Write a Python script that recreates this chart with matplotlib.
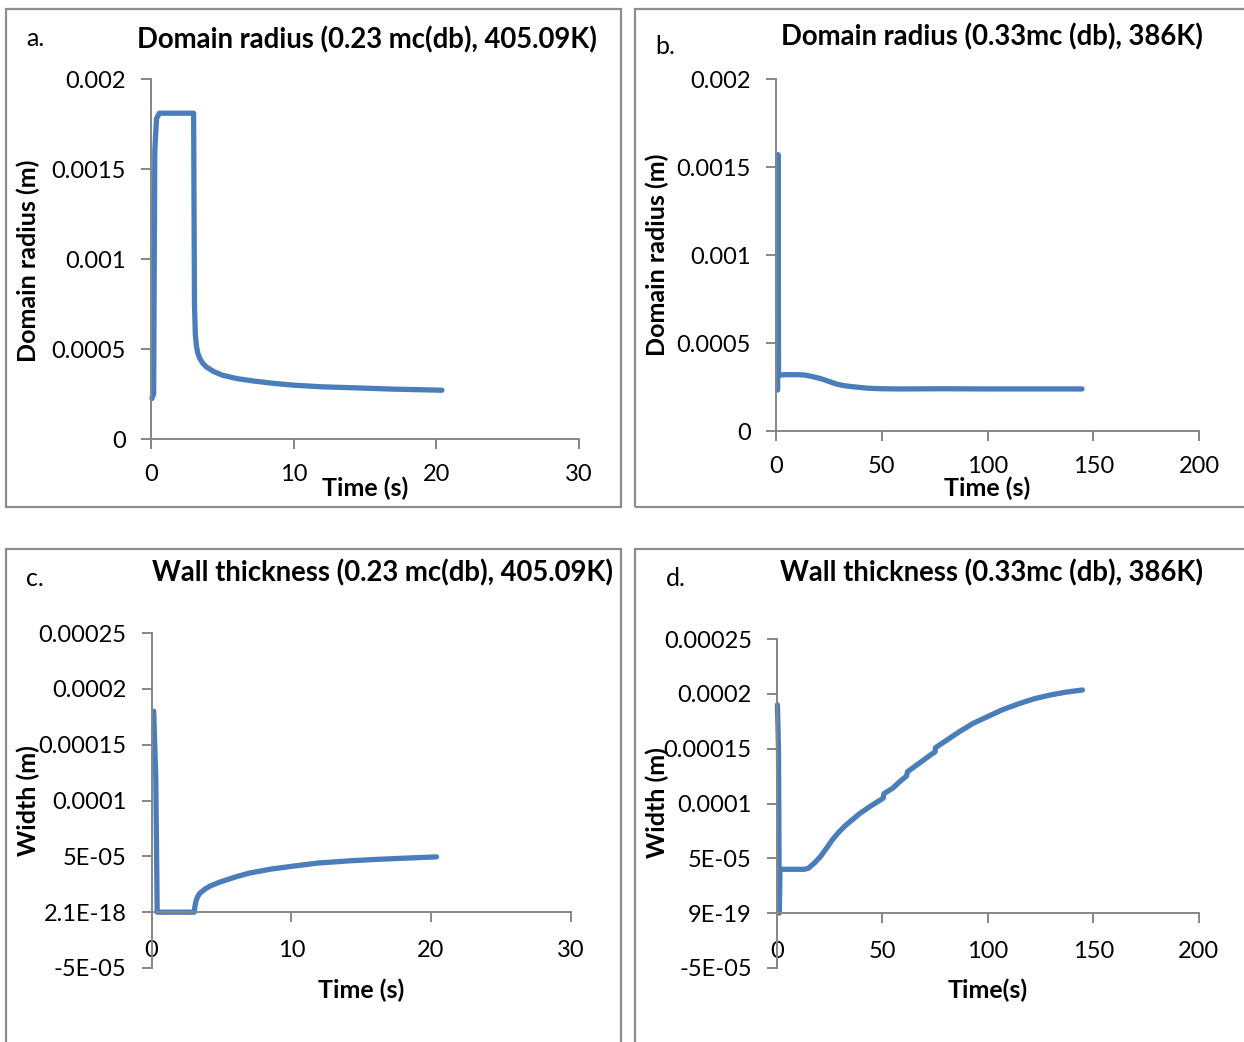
import matplotlib
matplotlib.use("Agg")
import matplotlib.pyplot as plt
from matplotlib.patches import Rectangle

plt.rcParams['font.family'] = ['Lato', 'DejaVu Sans']

# ---------------- data ----------------
a_time = [0.08, 0.2, 0.28, 0.4, 0.6, 1.0, 2.0, 3.0, 3.06, 3.12, 3.2, 3.3, 3.45,
          3.65, 3.9, 4.4, 5.0, 6.0, 7.2, 8.5, 10.0, 12.0, 14.4, 17.0, 20.4]
a_radius = [0.000225, 0.00025, 0.0016, 0.00178, 0.00181, 0.00181, 0.00181,
            0.00181, 0.00075, 0.00058, 0.000515, 0.000475, 0.000445,
            0.00042, 0.0004, 0.000375, 0.000355, 0.000336, 0.000322,
            0.00031, 0.000299, 0.00029, 0.000284, 0.000277, 0.000271]

b_time = [0.8, 1.0, 1.2, 5, 10, 13.5, 17, 21, 25, 28.5, 32, 36, 43.5, 50,
          58.5, 80, 100, 120, 144.7]
b_radius = [0.000233, 0.00157, 0.000318, 0.00032, 0.00032, 0.000318,
            0.00031, 0.000298, 0.000282, 0.000267, 0.000258, 0.000252,
            0.000243, 0.00024, 0.000239, 0.00024, 0.000239, 0.000239,
            0.000239]

c_time = [0.15, 0.3, 0.4, 1.0, 2.0, 3.05, 3.1, 3.18, 3.3, 3.46, 3.8, 4.2, 4.9,
          6.0, 7.0, 8.5, 10.0, 11.9, 14.2, 16.0, 17.6, 19.0, 20.4]
c_width = [0.00018, 0.00012, 0.0, 0.0, 0.0, 0.0, 5e-6, 1.0e-5, 1.4e-5,
           1.7e-5, 2.05e-5, 2.35e-5, 2.7e-5, 3.15e-5, 3.5e-5, 3.85e-5,
           4.1e-5, 4.4e-5, 4.6e-5, 4.72e-5, 4.81e-5, 4.88e-5, 4.95e-5]

d_time = [0.3, 0.8, 1.2, 1.5, 5, 10, 13, 15, 18, 20.7, 23.5, 26.3, 29, 32,
          35.7, 39.5, 44, 48.9, 50.5, 50.8, 55, 58.3, 61.5, 62, 67, 73.4, 75,
          75.3, 80, 86.6, 93, 99.7, 107, 114.8, 122, 129.8, 137, 144.9]
d_width = [0.00019, 0.00015, 0.0, 4.0e-5, 4.0e-5, 4.0e-5, 4.0e-5, 4.1e-5,
           4.6e-5, 5.16e-5, 5.9e-5, 6.68e-5, 7.3e-5, 7.9e-5, 8.5e-5, 9.11e-5,
           9.7e-5, 1.03e-4, 1.05e-4, 1.09e-4, 1.14e-4, 1.2e-4, 1.25e-4,
           1.29e-4, 1.36e-4, 1.45e-4, 1.47e-4, 1.51e-4, 1.57e-4, 1.655e-4,
           1.73e-4, 1.79e-4, 1.855e-4, 1.91e-4, 1.955e-4, 1.99e-4, 2.015e-4,
           2.035e-4]

radius_ticks = [0, 0.0005, 0.001, 0.0015, 0.002]
radius_ticklabels = ['0', '0.0005', '0.001', '0.0015', '0.002']
width_ticks = [-5e-05, 0, 5e-05, 0.0001, 0.00015, 0.0002, 0.00025]
c_width_ticklabels = ['-5E-05', '2.1E-18', '5E-05', '0.0001', '0.00015', '0.0002', '0.00025']
d_width_ticklabels = ['-5E-05', '9E-19', '5E-05', '0.0001', '0.00015', '0.0002', '0.00025']
short_time_ticks = [0, 10, 20, 30]
long_time_ticks = [0, 50, 100, 150, 200]

titles = ['Domain radius (0.23 mc(db), 405.09K)',
          'Domain radius (0.33mc (db), 386K)',
          'Wall thickness (0.23 mc(db), 405.09K)',
          'Wall thickness (0.33mc (db), 386K)']
letters = ['a.', 'b.', 'c.', 'd.']
ylabels = ['Domain radius (m)', 'Domain radius (m)', 'Width (m)', 'Width (m)']
xlabels = ['Time (s)', 'Time (s)', 'Time (s)', 'Time(s)']

# ---------------- layout ----------------
W, H = 1244, 1042
fig = plt.figure(figsize=(W / 100, H / 100), dpi=100)
fig.patch.set_facecolor('white')

LINE = '#4A7EBB'
AXC = '#868686'
TICK_FS = 17
LAB_FS = 18
TITLE_FS = 19.8
LETTER_FS = 18


def fx(px):
    return px / W


def fy(py):
    return 1 - py / H


def add_ax(left, right, top, bottom):
    return fig.add_axes([fx(left), fy(bottom), fx(right) - fx(left), fy(top) - fy(bottom)])


# panel borders
for (x0, y0, x1, y1) in [(6, 9, 621, 507), (635, 9, 1252, 507),
                         (6, 549, 621, 1052), (635, 549, 1252, 1052)]:
    fig.patches.append(Rectangle((fx(x0), fy(y1)), fx(x1) - fx(x0), fy(y0) - fy(y1),
                                 transform=fig.transFigure, fill=False,
                                 edgecolor='#8c8c8c', linewidth=1.6, clip_on=False))

axes_px = [(150.8, 579, 79, 439), (776, 1199, 79, 431),
           (151.6, 570.6, 633, 968), (776.8, 1198.6, 639, 968)]
series = [(a_time, a_radius), (b_time, b_radius), (c_time, c_width), (d_time, d_width)]
xlims = [(0, 30), (0, 200), (0, 30), (0, 200)]
xticks = [short_time_ticks, long_time_ticks, short_time_ticks, long_time_ticks]
ylims = [(0, 0.002), (0, 0.002), (-5e-05, 0.00025), (-5e-05, 0.00025)]
yticks = [radius_ticks, radius_ticks, width_ticks, width_ticks]
yticklabels = [radius_ticklabels, radius_ticklabels, c_width_ticklabels, d_width_ticklabels]
ylabel_px = [(28, 261), (657, 255), (28, 801), (657, 803)]
xlabel_px = [(365, 488), (987, 488), (361, 990), (988, 990)]
title_px = [(367, 40), (992, 37), (383, 573), (992, 573)]
letter_px = [(26, 38), (655, 47), (26, 579), (666, 579)]
xpad = [11, 11, 13, 13]

for i in range(4):
    l, r, t, b = axes_px[i]
    ax = add_ax(l, r, t, b)
    x, y = series[i]
    ax.plot(x, y, color=LINE, linewidth=3.8, solid_capstyle='round',
            solid_joinstyle='round', clip_on=False)
    ax.set_xlim(*xlims[i])
    ax.set_ylim(*ylims[i])
    ax.set_xticks(xticks[i])
    ax.set_xticklabels([str(v) for v in xticks[i]])
    ax.set_yticks(yticks[i])
    ax.set_yticklabels(yticklabels[i])
    for s in ['top', 'right']:
        ax.spines[s].set_visible(False)
    for s in ['left', 'bottom']:
        ax.spines[s].set_color(AXC)
        ax.spines[s].set_linewidth(1.4)
    if i >= 2:
        ax.spines['bottom'].set_position(('data', 0))
    ax.tick_params(axis='both', colors=AXC, length=7, width=1.4, direction='out',
                   labelsize=TICK_FS, labelcolor='black')
    ax.tick_params(axis='x', pad=xpad[i])
    ax.tick_params(axis='y', pad=11)
    ax.patch.set_alpha(0)

    # labels
    w_ax = r - l
    h_ax = b - t
    ax.set_ylabel(ylabels[i], fontsize=LAB_FS, fontweight='bold')
    ax.yaxis.set_label_coords((ylabel_px[i][0] - l) / w_ax, (b - ylabel_px[i][1]) / h_ax)
    ax.set_xlabel(xlabels[i], fontsize=LAB_FS, fontweight='bold')
    ax.xaxis.set_label_coords((xlabel_px[i][0] - l) / w_ax, (b - xlabel_px[i][1]) / h_ax)
    ax.xaxis.label.set_verticalalignment('center')
    ax.yaxis.label.set_verticalalignment('center')

    fig.text(fx(title_px[i][0]), fy(title_px[i][1]), titles[i], ha='center', va='center',
             fontsize=TITLE_FS, fontweight='bold')
    fig.text(fx(letter_px[i][0]), fy(letter_px[i][1]), letters[i], ha='left', va='center',
             fontsize=LETTER_FS)

fig.savefig('out.png', dpi=100, facecolor='white')
